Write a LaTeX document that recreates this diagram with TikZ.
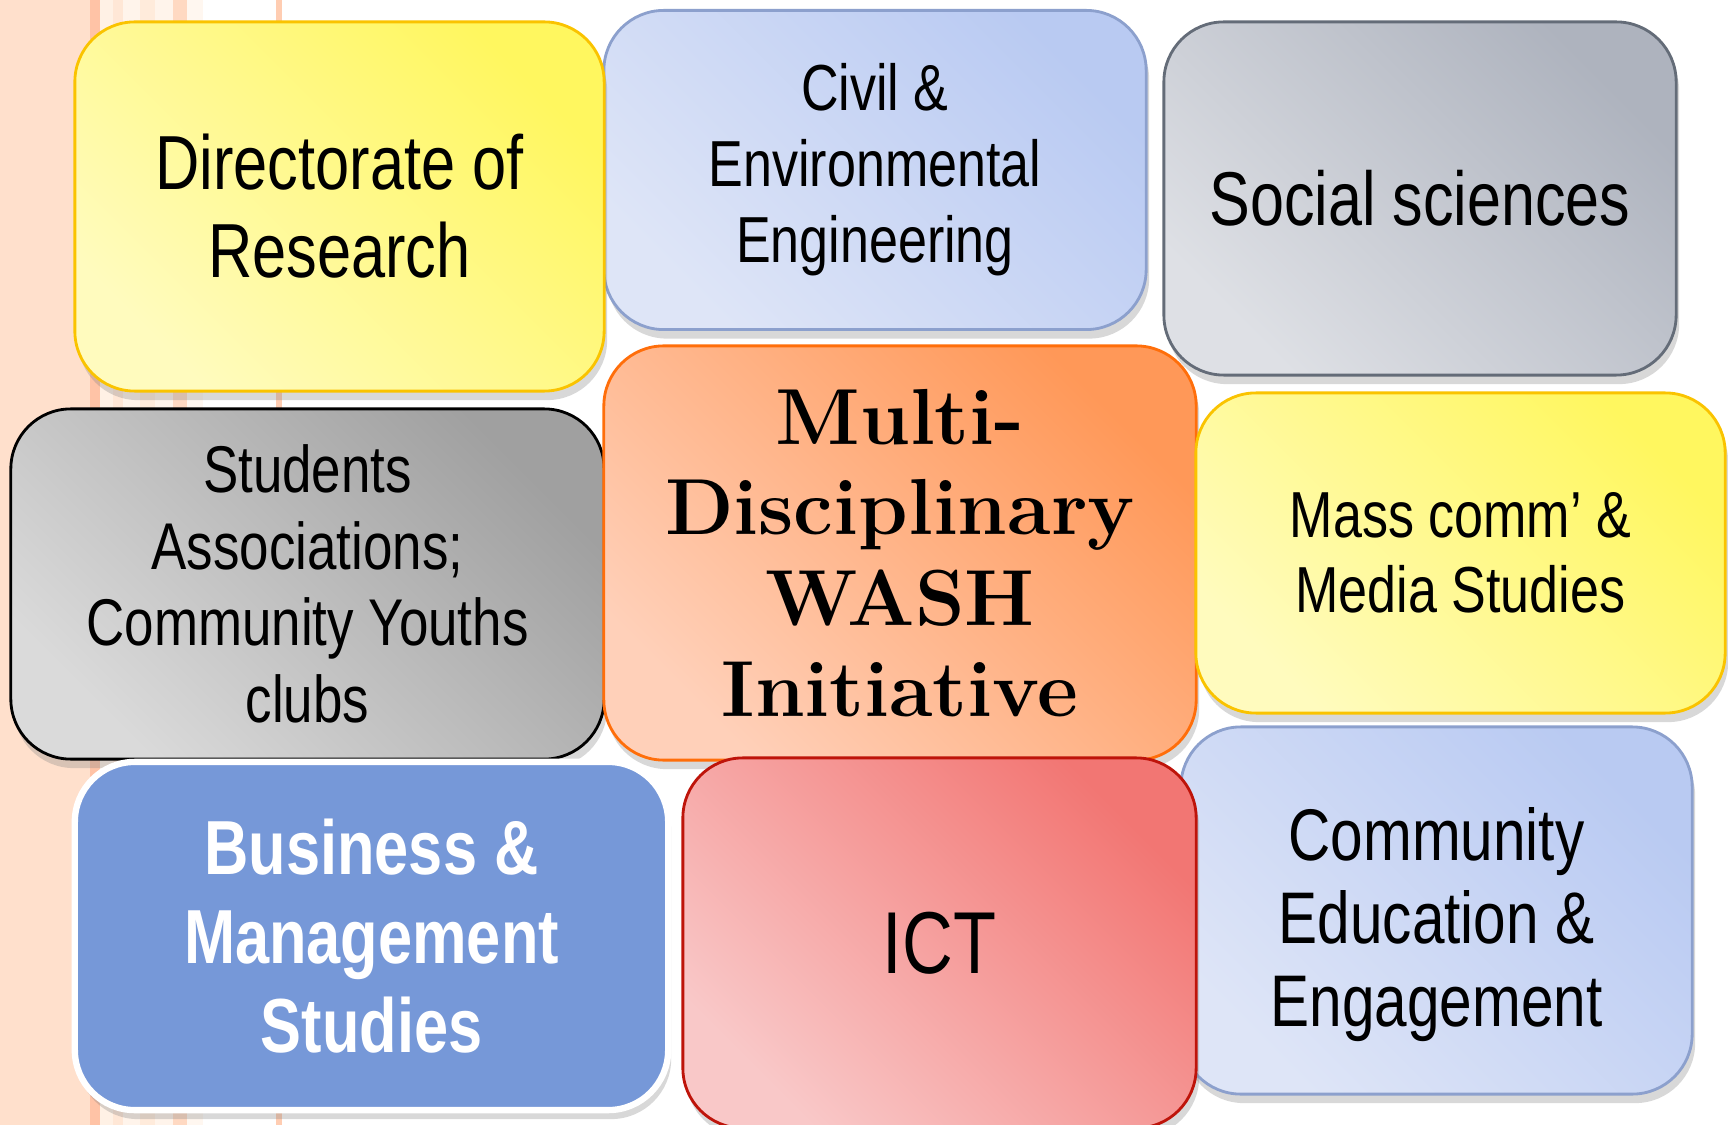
\documentclass[tikz,border=0pt]{standalone}
\usepackage{fontspec}
\newfontfamily\narrowsans[FakeStretch=0.8]{Liberation Sans}
\usetikzlibrary{shadows}

\begin{document}
\begin{tikzpicture}[x=0.01cm,y=-0.01cm,
  tile/.style={rectangle,rounded corners=6mm,inner sep=0pt,align=center,line width=0.8pt,
    drop shadow={shadow xshift=0.3mm,shadow yshift=-0.9mm,opacity=0.3}},
  tint/.style n args={3}{draw=#1,bottom color=#2,top color=#3,shading angle=-45},
  label/.style 2 args={font=\narrowsans\fontsize{#1}{#2}\selectfont}]
% Define colours
\definecolor{sunline}{RGB}{250,195,0}
\definecolor{sunlo}{RGB}{255,251,190}
\definecolor{sunhi}{RGB}{255,247,95}
\definecolor{skyline}{RGB}{140,160,205}
\definecolor{skylo}{RGB}{222,229,247}
\definecolor{skyhi}{RGB}{185,202,242}
\definecolor{slateline}{RGB}{100,108,120}
\definecolor{slatelo}{RGB}{222,224,229}
\definecolor{slatehi}{RGB}{174,179,190}
\definecolor{greylo}{RGB}{218,218,218}
\definecolor{greyhi}{RGB}{160,160,160}
\definecolor{orangeline}{RGB}{255,110,10}
\definecolor{orangelo}{RGB}{255,208,185}
\definecolor{orangehi}{RGB}{255,152,88}
\definecolor{redline}{RGB}{190,20,10}
\definecolor{redlo}{RGB}{249,200,200}
\definecolor{redhi}{RGB}{242,118,115}
\definecolor{bizblue}{RGB}{118,152,216}

% Page and left-hand stripes
\useasboundingbox (0,0) rectangle (1728,1125);
\fill[white] (0,0) rectangle (1728,1125);
\fill[red!20!orange!20] (0,0) rectangle (90,1125);
\fill[red!35!orange!35] (90,0) rectangle (100,1125);
\fill[red!10!orange!10] (100,0) rectangle (113,1125);
\fill[red!16!orange!16] (113,0) rectangle (123,1125);
\fill[red!8!orange!8] (123,0) rectangle (140,1125);
\fill[red!14!orange!14] (140,0) rectangle (155,1125);
\fill[red!8!orange!8] (155,0) rectangle (173,1125);
\fill[red!24!orange!24] (173,0) rectangle (187,1125);
\fill[red!6!orange!6] (187,0) rectangle (203,1125);
\fill[red!30!orange!30] (276,0) rectangle (282,1125);

% Top row
\node[tile,tint={skyline}{skylo}{skyhi},minimum width=5.42cm,minimum height=3.19cm,
  label={18.5}{21.6}] (civil) at (875,170) {Civil \&\\Environmental\\Engineering};
\node[tile,tint={sunline}{sunlo}{sunhi},minimum width=5.29cm,minimum height=3.69cm,
  label={21.8}{25}] (research) at (339.5,206.5) {Directorate of\\Research};
\node[tile,tint={slateline}{slatelo}{slatehi},minimum width=5.12cm,minimum height=3.53cm,
  label={21.7}{25}] (social) at (1420,198.5) {Social sciences};

% Middle row
\node[tile,tint={black}{greylo}{greyhi},minimum width=5.93cm,minimum height=3.5cm,
  label={18.8}{21.8}] (students) at (307.5,584) {Students\\Associations;\\Community Youths\\clubs};
\node[tile,tint={orangeline}{orangelo}{orangehi},minimum width=5.92cm,minimum height=4.14cm,
  font=\bfseries\fontsize{22.6}{25.8}\selectfont] (wash) at (900,553)
  {Multi-\\Disciplinary\\WASH\\Initiative};
\node[tile,tint={sunline}{sunlo}{sunhi},minimum width=5.29cm,minimum height=3.2cm,
  label={18.5}{21.4}] (media) at (1460.5,553) {Mass comm’ \&\\Media Studies};

% Bottom row
\node[tile,tint={skyline}{skylo}{skyhi},minimum width=5.11cm,minimum height=3.67cm] (outreach) at (1436.5,910.5) {};
\node[label={20.8}{23.6},align=center] (outreachtext) at ([yshift=-4pt]outreach.center)
  {Community\\Education \&\\Engagement};
\node[tile,draw=white,fill=bizblue,line width=1.8pt,text=white,minimum width=5.93cm,minimum height=3.48cm,
  font=\narrowsans\bfseries\fontsize{21.8}{25.4}\selectfont] (business) at (371.5,936)
  {Business \&\\Management\\Studies};
\node[tile,tint={redline}{redlo}{redhi},minimum width=5.13cm,minimum height=3.7cm,
  label={25}{28}] (ict) at (939.5,943) {ICT};
\end{tikzpicture}
\end{document}
